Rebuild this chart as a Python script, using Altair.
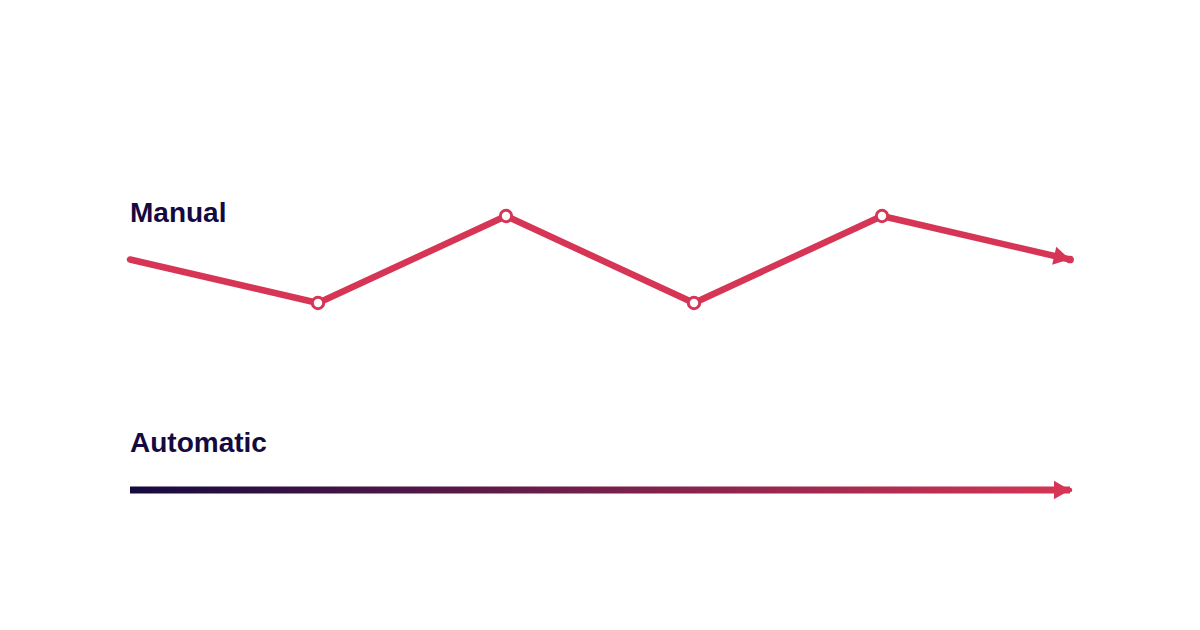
import altair as alt
import pandas as pd

# Data
steps = [0, 1, 2, 3, 4, 5]
manual_level = [0, -1, 1, -1, 1, 0]
auto_start, auto_end = 0, 5
labels = ["Manual", "Automatic"]

RED = "#d63555"
NAVY = "#150a40"

manual_df = pd.DataFrame({"step": steps, "level": manual_level})
inner_df = manual_df.iloc[1:-1]
end_df = manual_df.iloc[[-1]]
auto_df = pd.DataFrame({"x": [auto_start], "x2": [auto_end], "level": [0]})
auto_end_df = pd.DataFrame({"x": [auto_end], "level": [0]})

xs = alt.Scale(domain=[0, 5], range=[122, 1062])
ys_m = alt.Scale(domain=[-1, 1], range=[295, 208])
ys_a = alt.Scale(domain=[-1, 1], range=[482 + 43.5, 482 - 43.5])

X = lambda f: alt.X(f, type="quantitative", scale=xs, axis=None)
YM = alt.Y("level:Q", scale=ys_m, axis=None)
YA = alt.Y("level:Q", scale=ys_a, axis=None)

font = "Liberation Sans"

manual_line = alt.Chart(manual_df).mark_line(
    color=RED, strokeWidth=6.5, strokeCap="round", strokeJoin="round"
).encode(x=X("step"), y=YM)

manual_end_dot = alt.Chart(end_df).mark_point(
    shape="circle", filled=True, color=RED, size=60, opacity=1
).encode(x=X("step"), y=YM)

manual_arrow = alt.Chart(end_df).mark_point(
    shape="triangle-right", filled=True, color=RED, size=340, opacity=1,
    angle=13, xOffset=-8, yOffset=-2
).encode(x=X("step"), y=YM)

manual_pts = alt.Chart(inner_df).mark_point(
    shape="circle", filled=True, fill="white", stroke=RED, strokeWidth=3,
    size=130, opacity=1
).encode(x=X("step"), y=YM)

manual_label = alt.Chart(pd.DataFrame({"x": [0], "level": [1], "t": [labels[0]]})).mark_text(
    align="left", baseline="alphabetic", font=font, fontWeight="bold", fontSize=28,
    color=NAVY, dy=6
).encode(x=X("x"), y=YM, text="t:N")

manual_layer = alt.layer(manual_line, manual_pts, manual_arrow, manual_end_dot, manual_label)

grad = alt.Gradient(
    gradient="linear",
    stops=[alt.GradientStop(color=NAVY, offset=0), alt.GradientStop(color=RED, offset=1)],
    x1=0, x2=1, y1=0, y2=0,
)

auto_bar = alt.Chart(auto_df).mark_bar(
    fill=grad, size=7, orient="horizontal"
).encode(x=X("x"), x2="x2:Q", y=YA)

auto_arrow = alt.Chart(auto_end_df).mark_point(
    shape="triangle-right", filled=True, color=RED, size=340, opacity=1, xOffset=-8
).encode(x=X("x"), y=YA)

auto_end_dot = alt.Chart(auto_end_df).mark_point(
    shape="circle", filled=True, color=RED, size=20, opacity=1
).encode(x=X("x"), y=YA)

auto_label = alt.Chart(pd.DataFrame({"x": [0], "level": [0], "t": [labels[1]]})).mark_text(
    align="left", baseline="alphabetic", font=font, fontWeight="bold", fontSize=28,
    color=NAVY, dy=-38
).encode(x=X("x"), y=YA, text="t:N")

auto_layer = alt.layer(auto_bar, auto_arrow, auto_end_dot, auto_label)

chart = alt.layer(manual_layer, auto_layer).resolve_scale(y="independent").properties(
    width=1184, height=614, padding=0, autosize=alt.AutoSizeParams(type="none"),
    background="white"
).configure_view(stroke=None)

chart.save("out.html", embed_options={"renderer": "svg", "actions": False})
